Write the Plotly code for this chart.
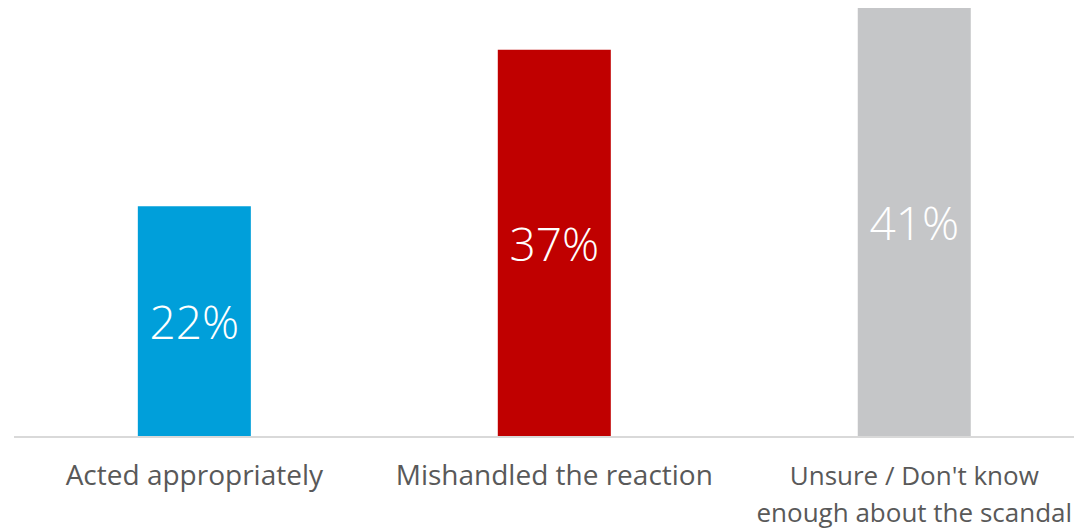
import plotly.graph_objects as go

categories = ["Acted appropriately", "Mishandled the reaction",
              "<span style=\"font-size:26px\">Unsure / Don't know<br>enough about the scandal</span>"]
values = [22, 37, 41]
colors = ["#009FDA", "#C00000", "#C5C6C8"]

fig = go.Figure(go.Bar(
    x=list(range(len(categories))),
    y=values,
    marker=dict(color=colors, line=dict(width=0)),
    width=0.314,
    texttemplate="%{y}%",
    textposition="inside",
    insidetextanchor="middle",
    textangle=0,
    constraintext="none",
    textfont=dict(family="Open Sans", size=46, color="white", weight=300),
    hoverinfo="skip",
))

fig.update_layout(
    width=1074, height=522,
    margin=dict(l=6, r=0, t=0, b=93.5, autoexpand=False),
    paper_bgcolor="white", plot_bgcolor="white",
    showlegend=False,
    xaxis=dict(
        range=[-0.501, 2.466],
        tickmode="array",
        tickvals=list(range(len(categories))),
        ticktext=categories,
        showgrid=False, zeroline=False,
        showline=True, linecolor="#D9D9D9", linewidth=1.5,
        ticks="", ticklen=0,
        automargin=False,
        ticklabeloverflow="allow",
        ticklabelstandoff=14,
        tickfont=dict(family="Open Sans", size=28, color="#595959"),
    ),
    yaxis=dict(
        range=[0, 41.0],
        visible=False, showgrid=False, zeroline=False,
    ),
)

fig.write_html("out.html")
